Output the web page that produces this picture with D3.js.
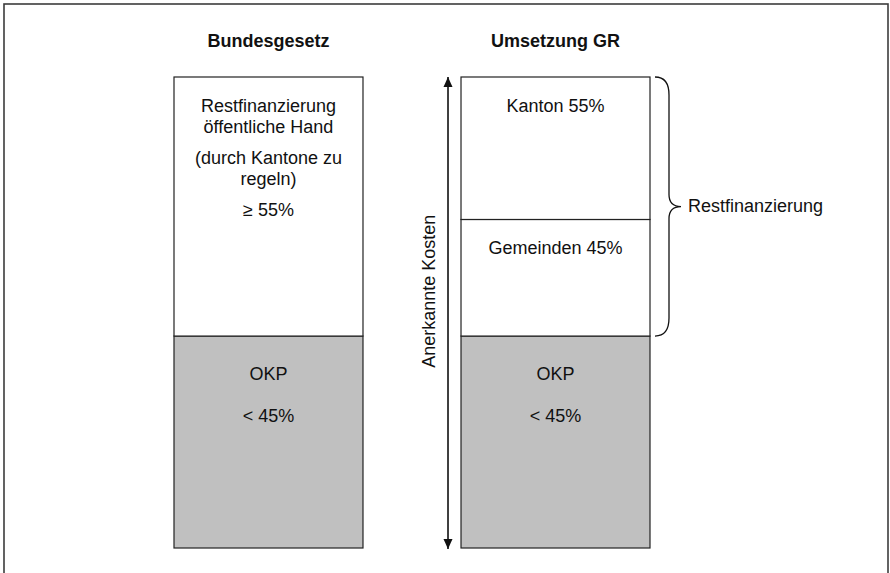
<!DOCTYPE html>
<html>
<head>
<meta charset="utf-8">
<script src="https://cdn.jsdelivr.net/npm/d3@7"></script>
<style>
  html, body { margin: 0; padding: 0; background: #fff; }
  svg { display: block; }
  text { font-family: "Liberation Sans", Arial, sans-serif; fill: #111; }
</style>
</head>
<body>
<div id="chart"></div>
<script>
// columns and their stacked shares (bottom to top), in percent of the recognised costs
var columns = ['Bundesgesetz', 'Umsetzung GR'];
var bundValues = [45, 55];
var bundLabels = [
	[['OKP', '', '< 45%']],
	[['Restfinanzierung', 'öffentliche Hand'], ['(durch Kantone zu', 'regeln)'], ['≥ 55%']]
];
var grValues = [45, 24.75, 30.25];
var grLabels = [
	[['OKP', '', '< 45%']],
	[['Gemeinden 45%']],
	[['Kanton 55%']]
];
var grFills = ['okp', 'rest', 'rest'];
var bundFills = ['okp', 'rest'];
var axisLabel = 'Anerkannte Kosten';
var braceLabel = 'Restfinanzierung';

var width = 890, height = 573;
var colors = { okp: '#c0c0c0', rest: '#ffffff' };

var svg = d3.select('#chart').append('svg')
	.attr('width', width)
	.attr('height', height);

// outer frame (bottom edge runs past the picture)
svg.append('rect')
	.attr('x', 4).attr('y', 4)
	.attr('width', 884).attr('height', 600)
	.attr('fill', 'none')
	.attr('stroke', '#3c3c3c')
	.attr('stroke-width', 1.6);

var x = d3.scaleBand()
	.domain(columns)
	.range([174, 650])
	.paddingInner(0.3415)
	.paddingOuter(0);

var y = d3.scaleLinear()
	.domain([0, 100])
	.range([548, 77]);

function stack(values, labels, fills) {
	var acc = 0;
	return values.map(function(v, i) {
		var d = { y0: acc, y1: acc + v, label: labels[i], fill: fills[i] };
		acc += v;
		return d;
	});
}

var data = [
	{ name: columns[0], segs: stack(bundValues, bundLabels, bundFills) },
	{ name: columns[1], segs: stack(grValues, grLabels, grFills) }
];

var lineHeight = 21, paraGap = 10;

var col = svg.selectAll('g.col')
	.data(data)
	.enter().append('g')
	.attr('class', 'col');

col.append('text')
	.attr('x', function(d) { return x(d.name) + x.bandwidth() / 2; })
	.attr('y', 47)
	.attr('text-anchor', 'middle')
	.style('font-size', '18px')
	.style('font-weight', 'bold')
	.text(function(d) { return d.name; });

var seg = col.selectAll('g.seg')
	.data(function(d) { return d.segs.map(function(s) { s.col = d.name; return s; }); })
	.enter().append('g')
	.attr('class', 'seg');

seg.append('rect')
	.attr('x', function(d) { return x(d.col); })
	.attr('y', function(d) { return y(d.y1); })
	.attr('width', x.bandwidth())
	.attr('height', function(d) { return y(d.y0) - y(d.y1); })
	.attr('fill', function(d) { return colors[d.fill]; })
	.attr('stroke', '#222')
	.attr('stroke-width', 1.2);

seg.each(function(d) {
	var g = d3.select(this);
	var cx = x(d.col) + x.bandwidth() / 2;
	var yy = y(d.y1) + (d.fill === 'okp' ? 44 : 35);
	d.label.forEach(function(para, pi) {
		if (pi > 0) yy += paraGap;
		para.forEach(function(line) {
			g.append('text')
				.attr('x', cx)
				.attr('y', yy)
				.attr('text-anchor', 'middle')
				.style('font-size', '18px')
				.text(line);
			yy += lineHeight;
		});
	});
});

// double-headed arrow for the recognised costs
var ax = x(columns[1]) - 13;
var defs = svg.append('defs');
defs.append('marker')
	.attr('id', 'head')
	.attr('viewBox', '0 0 10 10')
	.attr('refX', 10).attr('refY', 5)
	.attr('markerWidth', 10).attr('markerHeight', 10)
	.attr('markerUnits', 'userSpaceOnUse')
	.attr('orient', 'auto-start-reverse')
	.append('path')
	.attr('d', 'M0,0.5L10,5L0,9.5Z')
	.attr('fill', '#111');

svg.append('line')
	.attr('x1', ax).attr('x2', ax)
	.attr('y1', y(0) + 1).attr('y2', y(100))
	.attr('stroke', '#111')
	.attr('stroke-width', 1.6)
	.attr('marker-start', 'url(#head)')
	.attr('marker-end', 'url(#head)');

svg.append('text')
	.attr('transform', 'translate(' + (ax - 13) + ',' + y(54.5) + ') rotate(-90)')
	.attr('text-anchor', 'middle')
	.style('font-size', '18px')
	.text(axisLabel);

// curly brace over the Restfinanzierung part of the right column
var bx0 = x(columns[1]) + x.bandwidth() + 5;
var bx1 = bx0 + 14;
var braceTop = y(100), braceBot = y(grValues[0]), braceMid = (braceTop + braceBot) / 2;
var brace = d3.path();
brace.moveTo(bx0, braceTop);
brace.quadraticCurveTo(bx1, braceTop, bx1, braceTop + 18);
brace.lineTo(bx1, braceMid - 12);
brace.quadraticCurveTo(bx1, braceMid, bx1 + 12, braceMid);
brace.quadraticCurveTo(bx1, braceMid, bx1, braceMid + 12);
brace.lineTo(bx1, braceBot - 18);
brace.quadraticCurveTo(bx1, braceBot, bx0, braceBot);

svg.append('path')
	.attr('d', brace.toString())
	.attr('fill', 'none')
	.attr('stroke', '#111')
	.attr('stroke-width', 1.3);

svg.append('text')
	.attr('x', bx1 + 19)
	.attr('y', braceMid + 5)
	.style('font-size', '18px')
	.text(braceLabel);
</script>
</body>
</html>
